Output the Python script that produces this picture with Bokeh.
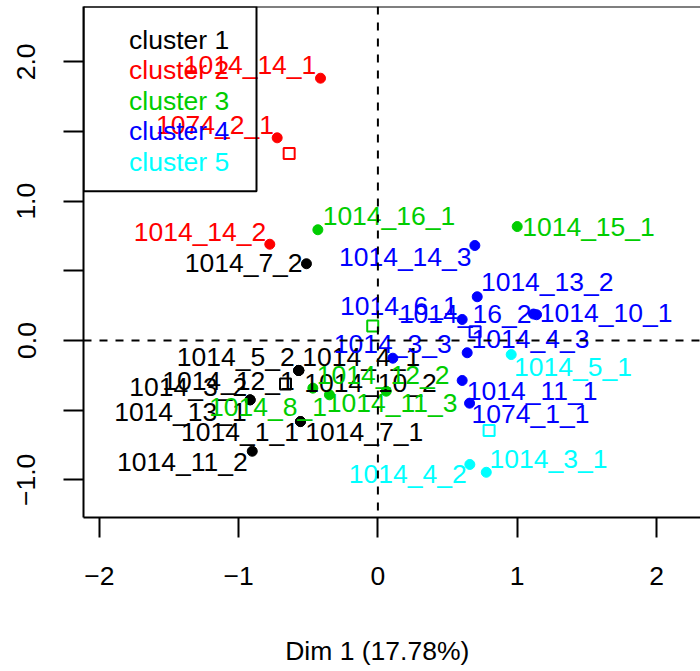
import numpy as np
from bokeh.plotting import figure
from bokeh.models import ColumnDataSource, Span, BoxAnnotation, FixedTicker, Range1d
from bokeh.core.properties import value
from bokeh.embed import file_html
from bokeh.resources import INLINE

# ---------------- data ----------------
cluster_names = ["cluster 1", "cluster 2", "cluster 3", "cluster 4", "cluster 5"]
cluster_colors = ["#000000", "#FF0000", "#00CD00", "#0000FF", "#00FFFF"]

ind_names = [
    "1014_7_2", "1014_5_2", "1014_4_1", "1014_12_1", "1014_10_2",
    "1014_3_2", "1014_13_1", "1014_1_1", "1014_7_1", "1014_11_2",
    "1014_14_1", "1074_2_1", "1014_14_2",
    "1014_16_1", "1014_15_1", "1014_12_2", "1014_11_3", "1014_8_1",
    "1014_14_3", "1014_13_2", "1014_6_1", "1014_16_2", "1014_10_1",
    "1014_3_3", "1014_4_3", "1014_11_1", "1074_1_1",
    "1014_5_1", "1014_4_2", "1014_3_1",
]
ind_dim1 = [
    -0.513, -0.568, -0.568, -0.568, -0.568,
    -0.917, -0.917, -0.556, -0.556, -0.902,
    -0.412, -0.723, -0.776,
    -0.431, 1.000, 0.060, -0.348, -0.467,
    0.696, 0.713, 0.605, 1.117, 1.139,
    0.107, 0.641, 0.605, 0.658,
    0.957, 0.660, 0.778,
]
ind_dim2 = [
    0.551, -0.215, -0.215, -0.215, -0.215,
    -0.426, -0.426, -0.582, -0.582, -0.795,
    1.883, 1.455, 0.691,
    0.795, 0.818, -0.364, -0.390, -0.342,
    0.682, 0.314, 0.151, 0.190, 0.185,
    -0.127, -0.088, -0.287, -0.450,
    -0.101, -0.890, -0.946,
]
ind_cluster = [1] * 10 + [2] * 3 + [3] * 5 + [4] * 9 + [5] * 3

x_ticks = [-2, -1, 0, 1, 2]
x_tick_labels = ["\u22122", "\u22121", "0", "1", "2"]
y_ticks = [-1.0, -0.5, 0.0, 0.5, 1.0, 1.5, 2.0]
y_tick_labels = ["\u22121.0", "", "0.0", "", "1.0", "", "2.0"]
x_title = "Dim 1 (17.78%)"

# ---------------- layout (pixels) ----------------
# label centre offset from its point, in pixels (x right, y down)
label_dx = [
    -62.8, -63.1, 62.5, -70.3, 71.7,
    -61.9, -69.7, -60.5, 63.8, -69.9,
    -70.5, -62.2, -69.8,
    71.1, 71.3, -3.2, 62.7, -44.8,
    -69.6, 70.0, -63.3, -68.3, 69.5,
    0.0, 63.3, 70.0, 61.0,
    61.8, -62.1, 62.2,
]
label_dy = [
    -0.8, -13.0, -13.5, 11.0, 12.5,
    -13.3, 11.7, 10.0, 10.5, 11.0,
    -12.7, -13.3, -12.7,
    -13.3, 0.0, -16.7, 7.7, 19.0,
    11.5, -14.3, -13.0, -0.5, -1.3,
    -13.7, -13.3, 11.0, 11.3,
    12.0, 10.0, -13.7,
]

FONT = "Liberation Sans"
FS = 26.5
PX = 139.3            # pixels per unit (equal aspect)
X0_PAGE, Y0_PAGE = 377.4, 340.0
W, H = 700, 671
FRAME_L, FRAME_R, FRAME_T, FRAME_B = 83, 700, 6, 517

def xd(px):
    return (px - X0_PAGE) / PX

def yd(py):
    return (Y0_PAGE - py) / PX

x_start, x_end = xd(FRAME_L), xd(FRAME_R)
y_start, y_end = yd(FRAME_B), yd(FRAME_T)

p = figure(width=W, height=H, output_backend="svg", toolbar_location=None,
           x_range=Range1d(x_start, x_end), y_range=Range1d(y_start, y_end),
           min_border_left=FRAME_L, min_border_right=W - FRAME_R,
           min_border_top=FRAME_T, min_border_bottom=H - FRAME_B,
           background_fill_color="white", border_fill_color="white")
p.outline_line_color = None
p.grid.visible = False

# axes
for ax in (p.xaxis[0], p.yaxis[0]):
    ax.axis_line_width = 2
    ax.major_tick_line_width = 2
    ax.major_tick_out = 20
    ax.major_tick_in = 0
    ax.minor_tick_out = 0
    ax.minor_tick_in = 0
    ax.major_label_text_font = FONT
    ax.major_label_text_font_size = f"{FS}px"
    ax.major_label_text_color = "black"
    ax.axis_line_color = "black"
    ax.major_tick_line_color = "black"

p.xaxis.ticker = FixedTicker(ticks=x_ticks)
p.xaxis.major_label_overrides = dict(zip(x_ticks, x_tick_labels))
p.xaxis.major_label_standoff = 29
# the R title is centred under x = 0 (the clipped plot region's centre);
# Bokeh centres on the visible frame, so pad on the right to shift it left
p.xaxis.axis_label = x_title + "\u00a0" * 4
p.xaxis.axis_label_text_font = FONT
p.xaxis.axis_label_text_font_size = f"{FS}px"
p.xaxis.axis_label_text_font_style = "normal"
p.xaxis.axis_label_text_color = "black"
p.xaxis.axis_label_standoff = 48

p.yaxis.ticker = FixedTicker(ticks=y_ticks)
p.yaxis.major_label_overrides = dict(zip(y_ticks, y_tick_labels))
p.yaxis.major_label_orientation = "vertical"
p.yaxis.major_label_standoff = 28

# top border and reference lines
p.add_layout(Span(location=y_end, dimension="width", line_color="black", line_width=2))
p.add_layout(Span(location=0, dimension="height", line_color="black",
                  line_width=2, line_dash="8 8"))
p.add_layout(Span(location=0, dimension="width", line_color="black",
                  line_width=2, line_dash="8 8"))

# individuals
colors = [cluster_colors[c - 1] for c in ind_cluster]
src = ColumnDataSource(dict(
    x=ind_dim1, y=ind_dim2, name=ind_names, color=colors,
    xo=label_dx, yo=label_dy,
))
p.scatter("x", "y", source=src, size=10, color="color", marker="circle")
p.text("x", "y", text="name", source=src, x_offset="xo", y_offset="yo",
       text_align="center", text_baseline="middle", text_color="color",
       text_font=value(FONT), text_font_size=f"{FS}px")

# cluster centres (means of individuals)
d1 = np.array(ind_dim1)
d2 = np.array(ind_dim2)
cl = np.array(ind_cluster)
cx = [float(d1[cl == k].mean()) for k in range(1, 6)]
cy = [float(d2[cl == k].mean()) for k in range(1, 6)]
p.scatter(cx, cy, marker="square", size=11, fill_color=None,
          line_color=cluster_colors, line_width=2)

# legend (manual: coloured texts in a box)
p.add_layout(BoxAnnotation(left=x_start, right=xd(256), top=y_end, bottom=yd(190.7),
                           fill_color=None, fill_alpha=0, line_color="black",
                           line_alpha=1.0, line_width=2))
leg_mid = [39.2, 69.7, 100.2, 130.7, 161.2]
p.text(x=[x_start] * 5, y=[y_end] * 5, text=cluster_names,
       x_offset=128.5 - FRAME_L, y_offset=[m - FRAME_T for m in leg_mid],
       text_align="left", text_baseline="middle", text_color=cluster_colors,
       text_font=value(FONT), text_font_size=f"{FS}px")

open("out.html", "w").write(file_html(p, INLINE))
